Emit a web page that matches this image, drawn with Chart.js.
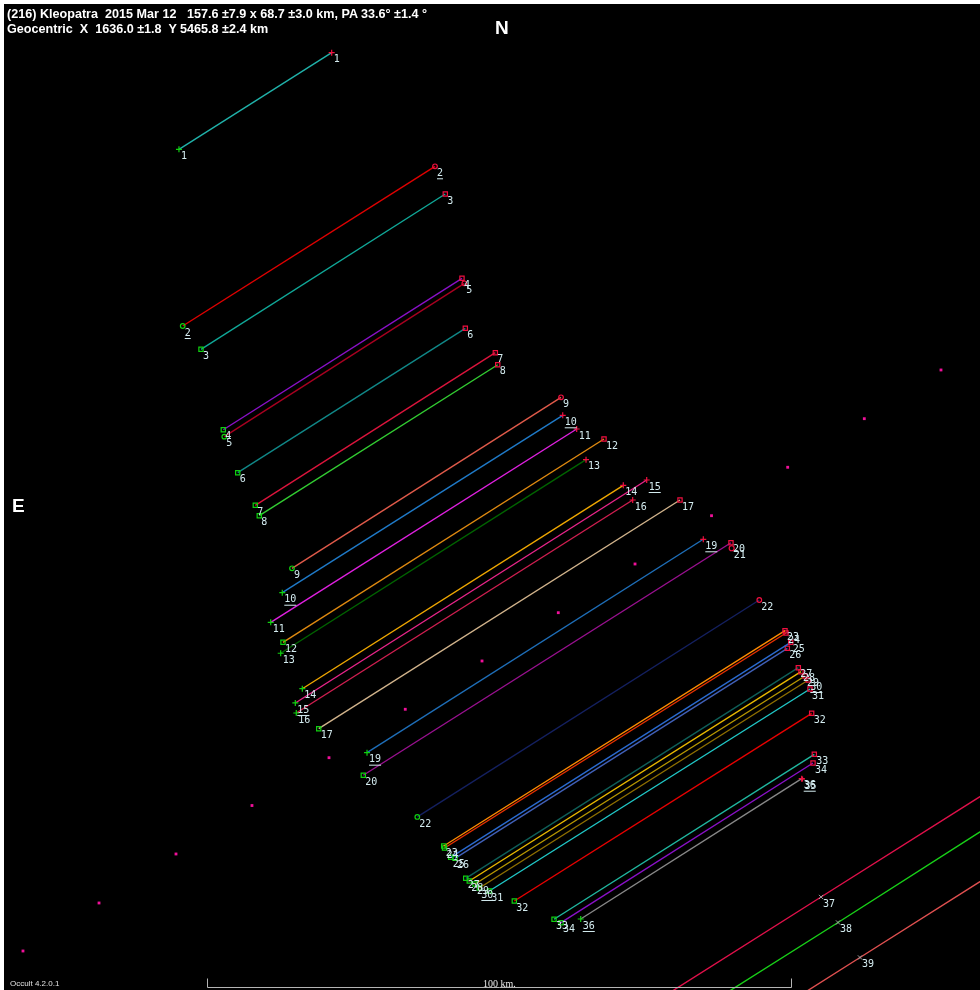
<!DOCTYPE html>
<html>
<head>
<meta charset="utf-8">
<script src="https://cdn.jsdelivr.net/npm/chart.js@4.4.0/dist/chart.umd.min.js"></script>
<style>
  html, body { margin: 0; padding: 0; background: #fff; }
  #wrap { position: absolute; left: 4px; top: 4px; width: 976px; height: 986px; background: #000; overflow: hidden; }
  #plot { position: absolute; left: 0; top: 0; }
  .txt { position: absolute; color: #fff; font-family: 'Liberation Sans', Arial, sans-serif; white-space: pre; line-height: 14px; }
  #title1, #title2 { left: 3px; font-size: 12.6px; font-weight: bold; }
  #title1 { top: 3px; }
  #title2 { top: 18px; }
  #north { left: 491px; top: 14px; font-size: 19px; font-weight: bold; line-height: 20px; }
  #east { left: 8px; top: 492px; font-size: 19px; font-weight: bold; line-height: 20px; }
  #kmLabel { left: 479px; top: 974px; font-family: 'Liberation Serif', serif; font-size: 10px; line-height: 12px; color: #e8e8e8; }
  #version { left: 6px; top: 975px; font-family: 'Liberation Sans Narrow', 'Liberation Sans', sans-serif; font-size: 8px; line-height: 10px; color: #e0e0e0; }
</style>
</head>
<body>
<div id="wrap">
  <canvas id="plot" width="976" height="986"></canvas>
  <div class="txt" id="title1">(216) Kleopatra  2015 Mar 12   157.6 ±7.9 x 68.7 ±3.0 km, PA 33.6° ±1.4 °</div>
  <div class="txt" id="title2">Geocentric  X  1636.0 ±1.8  Y 5465.8 ±2.4 km</div>
  <div class="txt" id="north">N</div>
  <div class="txt" id="east">E</div>
  <div class="txt" id="kmLabel">100 km.</div>
  <div class="txt" id="version">Occult 4.2.0.1</div>
</div>
<script>
// Chord data, km in the plane of the sky (x east-west, y north-south)
const chordIds = [1, 2, 3, 4, 5, 6, 7, 8, 9, 10, 11, 12, 13, 14, 15, 16, 17, 19, 20, 22, 23, 24, 25, 26, 27, 28, 29, 30, 31, 32, 33, 34, 36];
const startX = [-53.60, -52.96, -49.83, -46.01, -45.84, -43.54, -40.53, -39.85, -34.25, -35.91, -37.89, -35.79, -36.18, -32.48, -33.68, -33.51, -29.67, -21.40, -22.04, -12.79, -8.27, -8.13, -7.07, -6.34, -4.50, -3.89, -2.91, -2.17, -0.46, 3.82, 10.62, 11.82, 15.19];
const startY = [59.54, 29.28, 25.29, 11.52, 10.33, 4.16, -1.42, -3.20, -12.21, -16.39, -21.46, -24.88, -26.76, -32.83, -35.27, -36.99, -39.67, -43.78, -47.65, -54.79, -59.76, -60.10, -61.70, -61.87, -65.29, -65.75, -66.27, -66.95, -67.47, -69.18, -72.31, -72.89, -72.26];
const endX = [-27.45, -9.76, -8.00, -5.14, -4.74, -4.57, 0.57, 0.98, 11.82, 12.11, 14.50, 19.18, 16.10, 22.48, 26.49, 24.09, 32.19, 36.18, 40.92, 45.77, 50.17, 50.34, 51.15, 50.57, 52.45, 52.91, 53.60, 54.16, 54.45, 54.74, 55.19, 54.97, 53.03];
const endY = [76.08, 56.63, 51.88, 37.45, 36.59, 28.89, 24.71, 22.65, 17.07, 13.99, 11.64, 9.93, 6.39, 2.00, 2.91, -0.51, -0.51, -7.24, -7.83, -17.64, -22.89, -23.29, -24.88, -25.91, -29.23, -29.91, -30.65, -31.34, -32.88, -37.04, -44.06, -45.55, -48.24];
const chordColors = ['#20b2aa', '#e00000', '#10a898', '#8a10c8', '#a80020', '#108888', '#dc143c', '#32cd32', '#e05a4a', '#1f7ac8', '#e020e0', '#e08a10', '#006400', '#f0a800', '#e8248a', '#d01e50', '#d2b48c', '#1e6eb8', '#9a1090', '#142060', '#ff8c00', '#e83000', '#2a6ad0', '#4060b8', '#0f5f58', '#e8b800', '#b89800', '#907000', '#20c8c8', '#e80000', '#20b8a0', '#8a10c8', '#888888'];
const markerStyles = ['cross', 'circle', 'rect', 'rect', 'circle', 'rect', 'rect', 'rect', 'circle', 'cross', 'cross', 'rect', 'cross', 'cross', 'cross', 'cross', 'rect', 'cross', 'rect', 'circle', 'rect', 'rect', 'rect', 'rect', 'rect', 'rect', 'rect', 'rect', 'rect', 'rect', 'rect', 'rect', 'cross'];
const underlinedIds = [2, 10, 15, 19, 30, 36];

// Observers with only a disappearance marker
const singleIds = [21, 35];
const singleX = [41.04, 53.17];
const singleY = [-8.78, -48.29];
const singleStyles = ['circle', 'cross'];

// Miss chords (run across the whole plot)
const missIds = [37, 38, 39];
const missFromX = [18.49, 27.05, 40.75];
const missFromY = [-92.43, -93.18, -92.96];
const missToX = [97.26, 97.26, 97.26];
const missToY = [-42.65, -48.60, -57.20];
const missMarkX = [56.34, 59.25, 63.01];
const missMarkY = [-68.49, -72.86, -78.85];
const missColors = ['#e0104a', '#18d018', '#e05050'];

// Asteroid path points
const pathX = [76.88, 63.75, 50.63, 37.59, 24.49, 11.35, -1.71, -14.85, -27.91, -41.10, -54.11, -67.29, -80.31];
const pathY = [21.75, 13.41, 5.09, -3.20, -11.47, -19.81, -28.08, -36.35, -44.64, -52.83, -61.13, -69.52, -77.74];

// Plot extent (km) and scale bar
const xRange = [-83.56, 83.56];
const yRange = [-84.42, 84.42];
const scaleBarStart = -48.80;
const scaleBarKm = 100;

const startColor = '#10d010';
const endColor = '#f01040';

const datasets = [];

chordIds.forEach((id, i) => {
    datasets.push({
        data: [{ x: startX[i], y: startY[i] }, { x: endX[i], y: endY[i] }],
        showLine: true,
        borderColor: chordColors[i],
        borderWidth: 1.4,
        pointStyle: markerStyles[i],
        pointRadius: markerStyles[i] === 'circle' ? 2.3 : 3,
        pointBorderWidth: 1.2,
        pointBorderColor: [startColor, endColor],
        pointBackgroundColor: 'rgba(0,0,0,0)',
        pointLabels: [String(id), String(id)],
        underline: underlinedIds.includes(id)
    });
});

singleIds.forEach((id, i) => {
    datasets.push({
        data: [{ x: singleX[i], y: singleY[i] }],
        showLine: false,
        pointStyle: singleStyles[i],
        pointRadius: 2.5,
        pointBorderWidth: 1.2,
        pointBorderColor: endColor,
        pointBackgroundColor: 'rgba(0,0,0,0)',
        pointLabels: [String(id)],
        underline: false
    });
});

missIds.forEach((id, i) => {
    datasets.push({
        data: [
            { x: missFromX[i], y: missFromY[i] },
            { x: missMarkX[i], y: missMarkY[i] },
            { x: missToX[i], y: missToY[i] }
        ],
        showLine: true,
        borderColor: missColors[i],
        borderWidth: 1.4,
        pointStyle: 'crossRot',
        pointRadius: [0, 3, 0],
        pointBorderWidth: 1,
        pointBorderColor: '#a0a0a0',
        pointLabels: [null, String(id), null],
        underline: false
    });
});

datasets.push({
    data: pathX.map((x, i) => ({ x: x, y: pathY[i] })),
    showLine: false,
    pointStyle: 'rect',
    pointRadius: 2,
    pointBorderWidth: 0,
    pointBackgroundColor: '#f0109a'
});

// Chord numbers and the km scale bar
const chordLabels = {
    id: 'chordLabels',
    afterDatasetsDraw(chart) {
        const ctx = chart.ctx;
        ctx.save();
        ctx.font = '10px "DejaVu Sans Mono", monospace';
        ctx.fillStyle = '#d4ecf0';
        ctx.textBaseline = 'middle';
        chart.data.datasets.forEach((ds, i) => {
            if (!ds.pointLabels) return;
            const meta = chart.getDatasetMeta(i);
            meta.data.forEach((pt, j) => {
                const t = ds.pointLabels[j];
                if (!t) return;
                const x = pt.x + 2;
                const y = pt.y + 7;
                ctx.fillText(t, x, y);
                if (ds.underline) {
                    ctx.fillRect(x, y + 5, ctx.measureText(t).width, 1);
                }
            });
        });

        const xs = chart.scales.x;
        const x0 = Math.round(xs.getPixelForValue(scaleBarStart)) + 0.5;
        const x1 = Math.round(xs.getPixelForValue(scaleBarStart + scaleBarKm)) + 0.5;
        const yb = chart.chartArea.bottom - 2.5;
        ctx.strokeStyle = '#b4b4b4';
        ctx.lineWidth = 1;
        ctx.beginPath();
        ctx.moveTo(x0, yb - 9);
        ctx.lineTo(x0, yb);
        ctx.lineTo(x1, yb);
        ctx.lineTo(x1, yb - 9);
        ctx.stroke();
        ctx.restore();
    }
};

new Chart(document.getElementById('plot'), {
    type: 'scatter',
    data: { datasets: datasets },
    options: {
        responsive: false,
        animation: false,
        events: [],
        layout: { padding: 0, autoPadding: false },
        plugins: {
            legend: { display: false },
            tooltip: { enabled: false }
        },
        scales: {
            x: { type: 'linear', display: false, min: xRange[0], max: xRange[1] },
            y: { type: 'linear', display: false, min: yRange[0], max: yRange[1] }
        }
    },
    plugins: [chordLabels]
});
</script>
</body>
</html>
